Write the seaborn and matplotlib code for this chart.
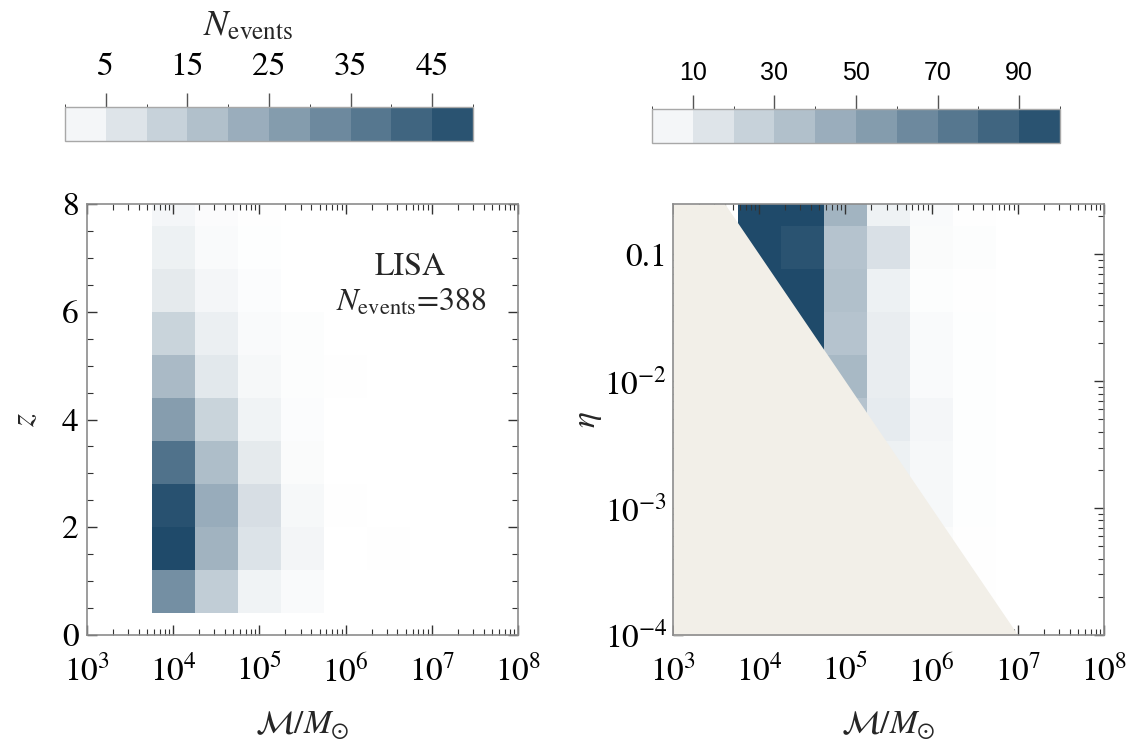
import numpy as np
import pandas as pd
import matplotlib
matplotlib.use("Agg")
import matplotlib.pyplot as plt
from matplotlib.colors import LinearSegmentedColormap, ListedColormap, BoundaryNorm
from matplotlib.cm import ScalarMappable
from matplotlib.ticker import FixedLocator, LogLocator, MultipleLocator, NullFormatter, FixedFormatter
import seaborn as sns

# ---------------------------------------------------------------- data
# chirp-mass bin centres, log10(M / Msun)
logM_centres = [4.0, 4.5, 5.0, 5.5, 6.0, 6.5]
# redshift bin centres (width 0.8)
z_centres = [0.8, 1.6, 2.4, 3.2, 4.0, 4.8, 5.6, 6.4, 7.2, 8.0]
# expected LISA events per (chirp-mass column, redshift row)
counts_z = [
    [31, 50, 48, 39, 27, 19, 12, 6, 4, 2.5],
    [14, 21, 23, 18, 12, 6.5, 4.5, 2.5, 1.5, 1.0],
    [3.5, 8, 9, 6, 3.5, 2, 1.5, 0.8, 0.5, 0.3],
    [1.5, 2.8, 2, 1.3, 0.8, 0.6, 0.7, 0, 0, 0],
    [0, 0, 0.3, 0, 0, 0.2, 0, 0, 0, 0],
    [0, 0.2, 0, 0, 0, 0, 0, 0, 0, 0],
]
# symmetric-mass-ratio bin centres, log10(eta), from eta = 1/4 downwards
log_eta_centres = [-0.602, -0.942, -1.282, -1.622, -1.962,
                   -2.301, -2.641, -2.981, -3.321, -3.660]
# events per (chirp-mass column, eta row)
counts_eta = [
    [160, 140, 125, 110, 0, 0, 0, 0, 0, 0],
    [130, 95, 115, 105, 0, 0, 0, 0, 0, 0],
    [41.5, 33, 35, 33, 39, 33, 0, 0, 0, 0],
    [7.6, 17, 8, 9.8, 10, 11, 8, 0, 0, 0],
    [3, 2.5, 1.5, 3, 3, 5, 4, 4, 2.5, 0],
    [0.5, 1.2, 0.6, 0.8, 0.8, 1.0, 1.0, 0.8, 0.7, 0.5],
]
n_total = 388
cbar_ticks_z = [5, 15, 25, 35, 45]
cbar_ticks_eta = [10, 30, 50, 70, 90]
# kinematic edge of the (M, eta) plane: eta * M = const
eta_mass_limit = 1e3

# ---------------------------------------------------------------- style
sns.set_style("white")
plt.rcParams.update({
    "font.family": ["STIXGeneral", "DejaVu Serif"],
    "mathtext.fontset": "stix",
    "font.size": 24,
})
FS = 24

cmap = LinearSegmentedColormap.from_list("deepsea", ["#ffffff", "#1f4a6a"])
beige = "#f2efe8"

W, H = 1136, 751
fig = plt.figure(figsize=(W / 100, H / 100), dpi=100)
ax_l = fig.add_axes([87 / W, 1 - 635 / H, 431 / W, 431 / H])
ax_r = fig.add_axes([673 / W, 1 - 635 / H, 431 / W, 431 / H])
cax_l = fig.add_axes([65 / W, 1 - 141 / H, 408 / W, 34 / H])
cax_r = fig.add_axes([652 / W, 1 - 143 / H, 408 / W, 34 / H])

# ---------------------------------------------------------------- tables
rows = []
for lm, col in zip(logM_centres, counts_z):
    for z, n in zip(z_centres, col):
        rows.append({"mass": 10 ** lm, "z": z, "n": n})
df_z = pd.DataFrame(rows)

rows = []
for lm, col in zip(logM_centres, counts_eta):
    for le, n in zip(log_eta_centres, col):
        rows.append({"mass": 10 ** lm, "eta": 10 ** le, "n": n})
df_eta = pd.DataFrame(rows)

dz = z_centres[1] - z_centres[0]
deta = log_eta_centres[0] - log_eta_centres[1]

sns.histplot(data=df_z, x="mass", y="z", weights="n",
             bins=(len(logM_centres), len(z_centres)),
             binrange=((logM_centres[0] - 0.25, logM_centres[-1] + 0.25),
                       (z_centres[0] - dz / 2, z_centres[-1] + dz / 2)),
             log_scale=(True, False), cmap=cmap, vmin=0, vmax=50,
             cbar=False, ax=ax_l)

sns.histplot(data=df_eta, x="mass", y="eta", weights="n",
             bins=(len(logM_centres), len(log_eta_centres)),
             binrange=((logM_centres[0] - 0.25, logM_centres[-1] + 0.25),
                       (log_eta_centres[-1] - deta / 2, log_eta_centres[0] + deta / 2)),
             log_scale=(True, True), cmap=cmap, vmin=0, vmax=100,
             cbar=False, ax=ax_r)

# excluded corner of the (M, eta) plane
m_grid = np.logspace(3, 8, 600)
ax_r.fill_between(m_grid, 1e-5, np.minimum(0.25, eta_mass_limit / m_grid),
                  color=beige, lw=0, zorder=3)

# ---------------------------------------------------------------- axes
def dec_label(v):
    return r"$10^{%d}$" % int(round(np.log10(v)))

for ax in (ax_l, ax_r):
    ax.set_xscale("log")
    ax.set_xlim(1e3, 1e8)
    majors = [1e3, 1e4, 1e5, 1e6, 1e7, 1e8]
    ax.xaxis.set_major_locator(FixedLocator(majors))
    ax.xaxis.set_major_formatter(FixedFormatter([dec_label(v) for v in majors]))
    ax.xaxis.set_minor_locator(LogLocator(base=10, subs=np.arange(2, 10), numticks=20))
    ax.xaxis.set_minor_formatter(NullFormatter())
    for s in ax.spines.values():
        s.set_visible(True)
        s.set_color("#8c8c8c")
        s.set_linewidth(1.2)
        s.set_zorder(5)
    ax.tick_params(which="both", direction="in", top=True, bottom=True,
                   left=True, right=True, colors="#333333", labelcolor="black")
    ax.tick_params(which="major", length=7, width=1.0, labelsize=FS)
    ax.tick_params(which="minor", length=4, width=0.8)
    ax.tick_params(axis="x", which="major", pad=14)
    ax.set_xlabel(r"$\mathcal{M}/M_{\odot}$", fontsize=FS, labelpad=15)
    ax.set_axisbelow(False)

ax_l.set_ylim(0, 8)
ax_l.yaxis.set_major_locator(MultipleLocator(2))
ax_l.yaxis.set_minor_locator(MultipleLocator(0.5))
ax_l.tick_params(axis="y", which="major", pad=6)
ax_l.set_ylabel(r"$z$", fontsize=FS, labelpad=15)

ax_r.set_yscale("log")
ax_r.set_ylim(1e-4, 0.25)
eta_majors = [1e-4, 1e-3, 1e-2, 1e-1]
ax_r.yaxis.set_major_locator(FixedLocator(eta_majors))
ax_r.yaxis.set_major_formatter(FixedFormatter(
    [r"$10^{-4}$", r"$10^{-3}$", r"$10^{-2}$", "0.1"]))
ax_r.yaxis.set_minor_locator(LogLocator(base=10, subs=np.arange(2, 10), numticks=20))
ax_r.yaxis.set_minor_formatter(NullFormatter())
ax_r.tick_params(axis="y", which="major", pad=4)
ax_r.set_ylabel(r"$\eta$", fontsize=FS, labelpad=0)

ax_l.text(0.749, 0.852, "LISA", transform=ax_l.transAxes,
          ha="center", va="center", fontsize=23)
ax_l.text(0.752, 0.772, r"$N_{\rm events}$=%d" % n_total, transform=ax_l.transAxes,
          ha="center", va="center", fontsize=23)

# ---------------------------------------------------------------- colour bars
def draw_bar(cax, vmax, ticks, family, size, pad):
    bounds = np.linspace(0, vmax, 11)
    centres = 0.5 * (bounds[:-1] + bounds[1:])
    swatch = ListedColormap(cmap(centres / vmax))
    cb = fig.colorbar(ScalarMappable(norm=BoundaryNorm(bounds, 10), cmap=swatch),
                      cax=cax, orientation="horizontal", ticks=ticks)
    cb.outline.set_edgecolor("#a8a8a8")
    cb.outline.set_linewidth(1.0)
    cax.xaxis.set_ticks_position("top")
    cax.tick_params(axis="x", direction="out", length=10, width=1.0,
                    colors="#555555", labelcolor="black", labelsize=size, pad=pad)
    cax.set_xticklabels([str(t) for t in ticks], family=family)
    return cb

draw_bar(cax_l, 50, cbar_ticks_z, ["STIXGeneral"], 24, 8)
draw_bar(cax_r, 100, cbar_ticks_eta, ["Liberation Sans", "DejaVu Sans"], 18, 7)

fig.text(248 / W, 1 - 27 / H, r"$N_{\rm events}$", ha="center", va="center", fontsize=26)

fig.savefig("out.png", dpi=100)
